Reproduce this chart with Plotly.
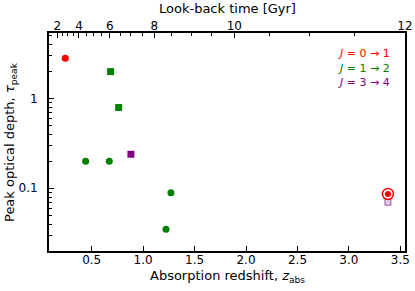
import numpy as np
import plotly.graph_objects as go

# --- data ---
z_j01 = [0.243]
tau_j01 = [2.78]
z_j12_circ = [0.441, 0.671, 1.270, 1.222]
tau_j12_circ = [0.20, 0.20, 0.089, 0.035]
z_j12_sq = [0.684, 0.762]
tau_j12_sq = [1.98, 0.79]
z_j34_sq = [0.881]
tau_j34_sq = [0.239]
z_hi_j01 = [3.379]
tau_hi_j01 = [0.0865]
z_hi_j34 = [3.379]
tau_hi_j34 = [0.070]

# top axis (look-back time) tick labels and their redshift positions
lb_major = [2, 4, 6, 8, 10, 12]
lb_major_z = [0.165, 0.376, 0.677, 1.108, 1.886, 3.544]
lb_minor = [2.5, 3, 3.5, 4.5, 5, 5.5, 6.5, 7, 7.5, 8.5, 9, 9.5, 10.5, 11, 11.5]

x_ticks = [0.5, 1.0, 1.5, 2.0, 2.5, 3.0, 3.5]
y_major = [0.1, 1]
y_major_txt = ["0.1", "1"]

RED = "#ff0000"
GREEN = "#008000"
PURPLE = "#800080"
FONT = "DejaVu Sans"

lb_minor_z = list(np.expm1(np.interp(lb_minor, lb_major, np.log1p(lb_major_z))))
y_minor = [m * d for d in (0.01, 0.1, 1) for m in range(2, 10)]

fig = go.Figure()
fig.add_trace(go.Scatter(x=z_j01, y=tau_j01, mode="markers",
                         marker=dict(symbol="circle", size=7, color=RED)))
fig.add_trace(go.Scatter(x=z_j12_circ, y=tau_j12_circ, mode="markers",
                         marker=dict(symbol="circle", size=7, color=GREEN)))
fig.add_trace(go.Scatter(x=z_j12_sq, y=tau_j12_sq, mode="markers",
                         marker=dict(symbol="square", size=7, color=GREEN)))
fig.add_trace(go.Scatter(x=z_j34_sq, y=tau_j34_sq, mode="markers",
                         marker=dict(symbol="square", size=7, color=PURPLE)))
fig.add_trace(go.Scatter(x=z_hi_j34, y=tau_hi_j34, mode="markers",
                         marker=dict(symbol="square", size=6, color="#ddd0e3",
                                     line=dict(color="#9b59a8", width=1))))
fig.add_trace(go.Scatter(x=z_hi_j01, y=tau_hi_j01, mode="markers",
                         marker=dict(symbol="circle-open", size=11, color=RED,
                                     line=dict(color=RED, width=1.5))))
fig.add_trace(go.Scatter(x=z_hi_j01, y=tau_hi_j01, mode="markers",
                         marker=dict(symbol="circle", size=6, color=RED)))
# dummy trace to anchor the top axis
fig.add_trace(go.Scatter(x=[None], y=[None], xaxis="x2", mode="markers",
                         hoverinfo="skip"))

xr = [0.085, 3.545]
common = dict(ticks="inside", ticklen=5, tickwidth=1.2, tickcolor="black",
              showline=True, linecolor="black", linewidth=2,
              showgrid=False, zeroline=False, automargin=False,
              ticklabeloverflow="allow", tickfont=dict(size=12))
fig.update_layout(
    width=415, height=291,
    margin=dict(l=49, r=10, t=33, b=40),
    paper_bgcolor="white", plot_bgcolor="white",
    showlegend=False,
    font=dict(family=FONT, size=12, color="black"),
    xaxis=dict(range=xr, tickvals=x_ticks,
               ticktext=[f"{v:.1f}" for v in x_ticks],
               mirror=True, ticklabelstandoff=-3, **common),
    xaxis2=dict(range=xr, overlaying="x", side="top", anchor="y",
                tickvals=lb_major_z, ticktext=[str(v) for v in lb_major],
                minor=dict(tickvals=lb_minor_z, ticks="inside", ticklen=3,
                           tickwidth=1, tickcolor="black", showgrid=False),
                ticklabelstandoff=-4, **common),
    yaxis=dict(type="log", range=[-1.697, 0.726],
               tickvals=y_major, ticktext=y_major_txt,
               minor=dict(tickvals=y_minor, ticks="inside", ticklen=3,
                          tickwidth=1, tickcolor="black", showgrid=False),
               mirror=True, ticklabelstandoff=7, **common),
)

# axis titles
fig.add_annotation(xref="paper", yref="paper", x=0.5, y=0, yshift=-25,
                   text="Absorption redshift, <i>z</i><sub>abs</sub>",
                   showarrow=False, xanchor="center", yanchor="middle",
                   font=dict(size=13, family=FONT))
fig.add_annotation(xref="paper", yref="paper", x=0.5, y=1, yshift=25,
                   text="Look-back time [Gyr]",
                   showarrow=False, xanchor="center", yanchor="middle",
                   font=dict(size=13, family=FONT))
fig.add_annotation(xref="paper", yref="paper", x=0, xshift=-39, y=0.5,
                   text="Peak optical depth, <i>τ</i><sub>peak</sub>",
                   textangle=-90, showarrow=False,
                   xanchor="center", yanchor="middle",
                   font=dict(size=13, family=FONT))

legend_items = [("<i>J</i> = 0 → 1", RED), ("<i>J</i> = 1 → 2", GREEN),
                ("<i>J</i> = 3 → 4", PURPLE)]
for i, (txt, col) in enumerate(legend_items):
    fig.add_annotation(xref="paper", yref="paper", x=0.963,
                       y=0.904 - i * 0.066, text=txt, showarrow=False,
                       xanchor="right", yanchor="middle",
                       font=dict(size=11, color=col, family=FONT))

fig.write_html("out.html", config={"displayModeBar": False},
               post_script="document.body.style.margin='0';"
                           "document.body.style.overflow='hidden';")
